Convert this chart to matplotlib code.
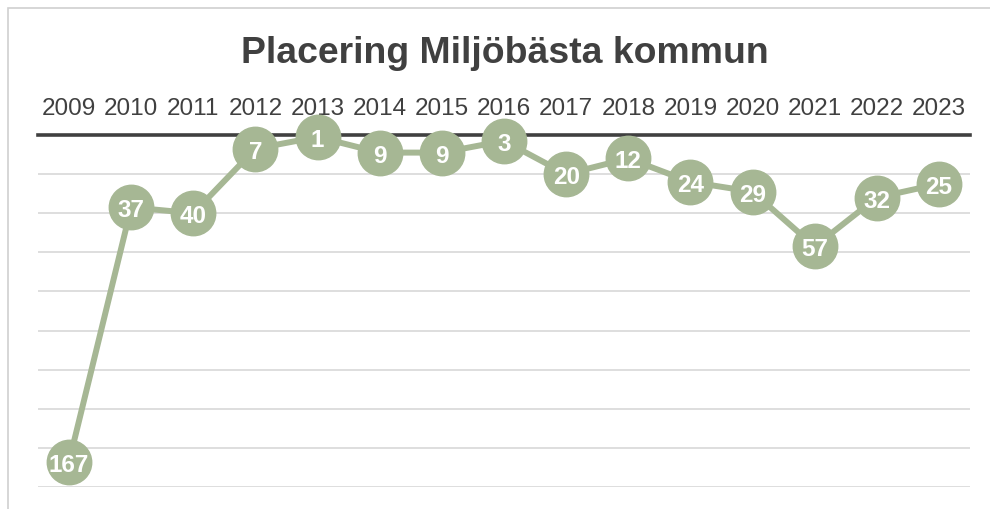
import matplotlib
matplotlib.use("Agg")
import matplotlib.pyplot as plt
from matplotlib.patches import Rectangle

years = ["2009", "2010", "2011", "2012", "2013", "2014", "2015", "2016",
         "2017", "2018", "2019", "2020", "2021", "2022", "2023"]
placering = [167, 37, 40, 7, 1, 9, 9, 3, 20, 12, 24, 29, 57, 32, 25]
title = "Placering Miljöbästa kommun"

plt.rcParams['font.family'] = ['Liberation Sans', 'DejaVu Sans']

W, H = 990, 510
fig = plt.figure(figsize=(W / 100, H / 100), dpi=100)
fig.patch.set_facecolor("white")

# chart border
fig.patches.append(Rectangle((8 / W, -0.05), 1.2, 1 - 9 / H + 0.05, transform=fig.transFigure,
                             fill=False, edgecolor="#d0d0d0", linewidth=1.2))

ax = fig.add_axes([38 / W, 1 - 488 / H, (970 - 38) / W, (488 - 136) / H])
green = "#a6b794"
x = list(range(len(years)))
ax.plot(x, placering, color=green, linewidth=4.3, marker="o", markersize=32,
        markerfacecolor=green, markeredgecolor=green, zorder=5, clip_on=False,
        solid_capstyle="round")
for xi, v in zip(x, placering):
    ax.text(xi, v, str(v), ha="center", va="center_baseline", color="white",
            fontsize=17.5, fontweight="bold", zorder=6, clip_on=False)

ax.set_xlim(-0.5, len(years) - 0.5)
ax.set_ylim(180, 0)
ax.set_yticks(range(0, 181, 20))
ax.yaxis.grid(True, color="#d4d4d4", linewidth=1.1)
ax.set_axisbelow(True)
ax.tick_params(axis="y", left=False, labelleft=False)
ax.xaxis.tick_top()
ax.set_xticks(x)
ax.set_xticklabels(years)
ax.tick_params(axis="x", length=0, pad=11.5, labelsize=17.5, labelcolor="#404040")
for s in ["left", "right", "bottom"]:
    ax.spines[s].set_visible(False)
ax.spines["top"].set_color("#404040")
ax.spines["top"].set_linewidth(2.6)
ax.spines["top"].set_zorder(2)

fig.text(505 / W, 1 - 63 / H, title, ha="center", va="baseline",
         fontsize=26.9, fontweight="bold", color="#404040")

fig.savefig("out.png", dpi=100, facecolor="white")
